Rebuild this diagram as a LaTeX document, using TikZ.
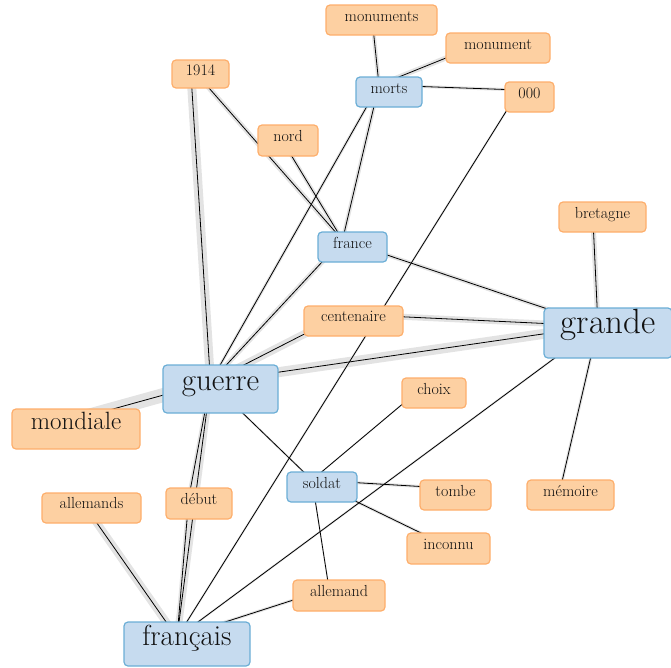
\documentclass[tikz,border=0pt]{standalone}
\usepackage{tikz}
\definecolor{bfill}{HTML}{C6DBEF}
\definecolor{bdraw}{HTML}{6BAED6}
\definecolor{ofill}{HTML}{FDD0A2}
\definecolor{odraw}{HTML}{FDAE6B}
\definecolor{halocol}{HTML}{E3E3E3}
\definecolor{txt}{HTML}{111111}
\tikzset{
  wbox/.style={rounded corners=4pt, line width=1.2pt, inner xsep=0pt, inner ysep=0pt,
    anchor=base, text=txt, font=\fontsize{16}{16}\selectfont},
  bluebox/.style={wbox, fill=bfill, draw=bdraw},
  orbox/.style={wbox, fill=ofill, draw=odraw},
  halo/.style={line width=#1, draw=halocol},
  edgeline/.style={line width=0.8pt, draw=black},
}
\begin{document}
\begin{tikzpicture}[x=1pt,y=-1pt]
\useasboundingbox (0,0) rectangle (671,667);
% graph vertices
\coordinate (v-monuments) at (371.5,13);
\coordinate (v-monument) at (488,41);
\coordinate (v-morts) at (379,85);
\coordinate (v-000) at (519.5,90);
\coordinate (v-1914) at (190.5,67);
\coordinate (v-nord) at (278,133.5);
\coordinate (v-france) at (342.5,240);
\coordinate (v-bretagne) at (592.5,210);
\coordinate (v-centenaire) at (343.5,314);
\coordinate (v-grande) at (598,326);
\coordinate (v-guerre) at (210.5,382);
\coordinate (v-choix) at (424,386);
\coordinate (v-mondiale) at (66,422);
\coordinate (v-soldat) at (312,480);
\coordinate (v-tombe) at (445.5,488);
\coordinate (v-memoire) at (560.5,488);
\coordinate (v-allemands) at (81.5,501);
\coordinate (v-debut) at (189,496.5);
\coordinate (v-inconnu) at (438.5,541.5);
\coordinate (v-allemand) at (329,588.5);
\coordinate (v-francais) at (177,637.5);
% halos
\foreach \a/\b/\w in {guerre/mondiale/14, guerre/grande/10, guerre/centenaire/8,
  centenaire/grande/6, guerre/1914/9, guerre/francais/7, guerre/debut/4,
  debut/francais/4, guerre/morts/3, guerre/france/5, guerre/soldat/2,
  france/1914/5, france/nord/4, france/morts/4, france/grande/4,
  morts/monuments/4, morts/monument/5, morts/000/3, 000/francais/2,
  grande/bretagne/5, grande/memoire/3, grande/francais/2, soldat/choix/1.5,
  soldat/tombe/3, soldat/inconnu/3, soldat/allemand/1.5, francais/allemands/8,
  francais/allemand/3}
  {\draw[halo=\w pt] (v-\a) -- (v-\b);}
% black lines
\foreach \a/\b in {guerre/mondiale, guerre/grande, guerre/centenaire,
  centenaire/grande, guerre/1914, guerre/francais, guerre/debut,
  debut/francais, guerre/morts, guerre/france, guerre/soldat,
  france/1914, france/nord, france/morts, france/grande,
  morts/monuments, morts/monument, morts/000, 000/francais,
  grande/bretagne, grande/memoire, grande/francais, soldat/choix,
  soldat/tombe, soldat/inconnu, soldat/allemand, francais/allemands,
  francais/allemand}
  {\draw[edgeline] (v-\a) -- (v-\b);}
% nodes
\node[orbox, minimum width=111pt, text height=16pt, text depth=14pt] (monuments) at (381.5,21) {monuments};
\node[orbox, minimum width=104pt, text height=16pt, text depth=14pt] (monument) at (498,49) {monument};
\node[bluebox, minimum width=66pt, text height=16pt, text depth=14pt] (morts) at (389,93) {morts};
\node[orbox, minimum width=49pt, text height=16pt, text depth=14pt] (n000) at (529.5,98) {000};
\node[orbox, minimum width=57pt, text height=15pt, text depth=13pt] (n1914) at (200.5,75) {1914};
\node[orbox, minimum width=60pt, text height=16pt, text depth=15pt] (nord) at (288,141) {nord};
\node[bluebox, minimum width=69pt, text height=16pt, text depth=14pt] (france) at (352.5,248) {france};
\node[orbox, minimum width=87pt, text height=16pt, text depth=14pt] (bretagne) at (602.5,218) {bretagne};
\node[orbox, minimum width=99pt, text height=15pt, text depth=15pt] (centenaire) at (353.5,321) {centenaire};
\node[bluebox, minimum width=128pt, text height=25pt, text depth=25pt, font=\fontsize{35}{35}\selectfont] (grande) at (608,333) {grande};
\node[bluebox, minimum width=115pt, text height=25pt, text depth=23pt, font=\fontsize{31}{31}\selectfont] (guerre) at (220.5,390) {guerre};
\node[orbox, minimum width=64pt, text height=16pt, text depth=14pt] (choix) at (434,394) {choix};
\node[orbox, minimum width=128pt, text height=20pt, text depth=20pt, font=\fontsize{25}{25}\selectfont] (mondiale) at (76,429) {mondiale};
\node[bluebox, minimum width=70pt, text height=16pt, text depth=14pt] (soldat) at (322,488) {soldat};
\node[orbox, minimum width=71pt, text height=16pt, text depth=14pt] (tombe) at (455.5,496) {tombe};
\node[orbox, minimum width=87pt, text height=16pt, text depth=14pt] (memoire) at (570.5,496) {mémoire};
\node[orbox, minimum width=99pt, text height=15pt, text depth=15pt] (allemands) at (91.5,508) {allemands};
\node[orbox, minimum width=66pt, text height=16pt, text depth=15pt] (debut) at (199,504) {début};
\node[orbox, minimum width=83pt, text height=16pt, text depth=15pt] (inconnu) at (448.5,549) {inconnu};
\node[orbox, minimum width=92pt, text height=16pt, text depth=15pt] (allemand) at (339,596) {allemand};
\node[bluebox, minimum width=126pt, text height=23pt, text depth=21pt, font=\fontsize{29}{29}\selectfont] (francais) at (187,645) {français};
\end{tikzpicture}
\end{document}
